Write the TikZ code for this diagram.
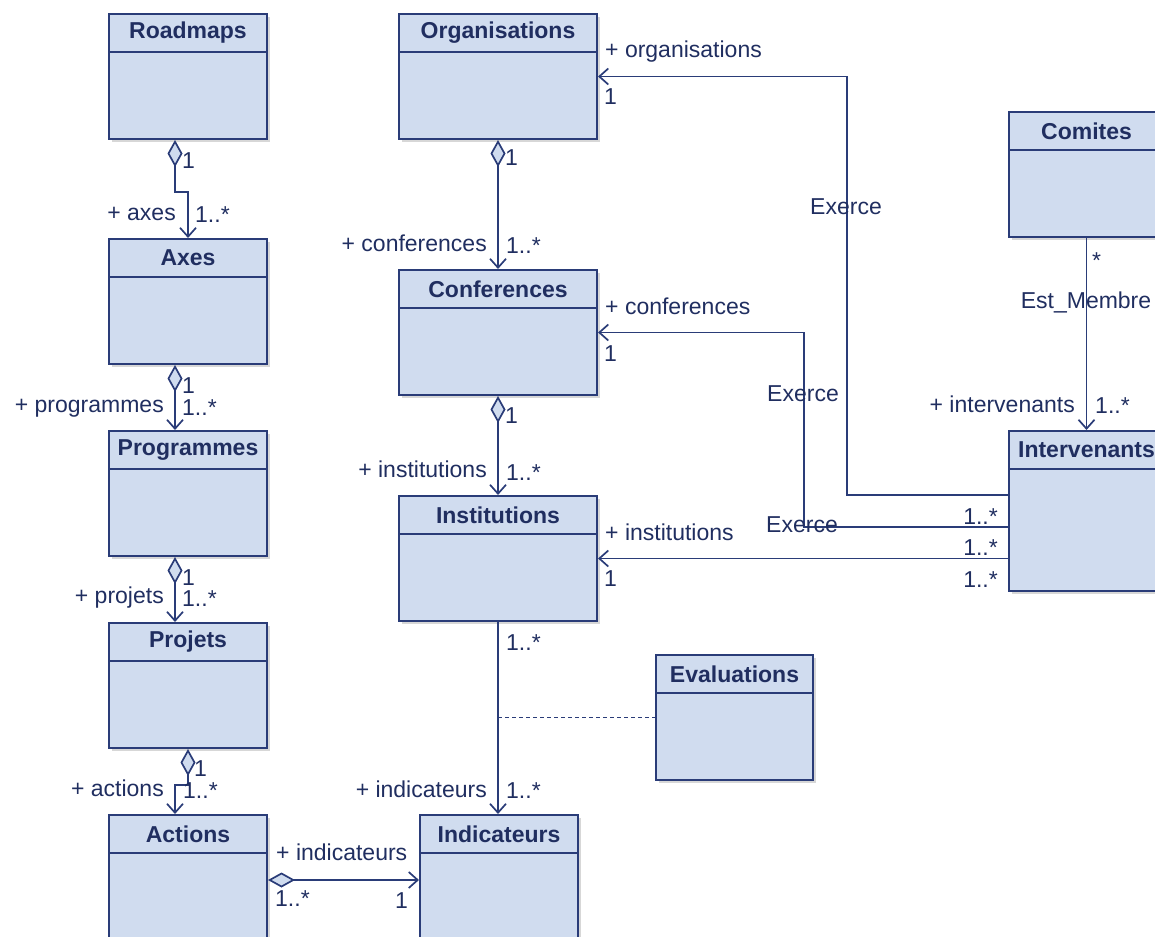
\documentclass[tikz,border=0pt]{standalone}
\usepackage{fontspec}
\setmainfont{Liberation Sans}
\usetikzlibrary{arrows.meta}
\usetikzlibrary{shadows}
\definecolor{umlfill}{RGB}{208,220,239}
\definecolor{umlline}{RGB}{42,60,120}
\definecolor{umltext}{RGB}{32,46,96}

\begin{document}
\begin{tikzpicture}[x=1pt,y=-1pt,font=\fontsize{23}{27}\selectfont,text=umltext,
    cls/.style={draw=umlline,line width=2pt,fill=umlfill,anchor=north west,inner sep=0pt,minimum height=125pt,
      drop shadow={shadow xshift=3pt,shadow yshift=-3pt,fill=black!35,opacity=.45}},
    head/.style={draw=umlline,line width=2pt,fill=umlfill,anchor=north,inner sep=0pt,minimum height=38pt,
      font=\fontsize{23}{27}\selectfont\bfseries},
    lnk/.style={draw=umlline,line width=1.7pt},
    nav/.style={lnk,-{Straight Barb[length=9pt,width=16pt]}},
    agg/.style={lnk,{Diamond[fill=umlfill,length=27pt,width=15pt]}-{Straight Barb[length=9pt,width=16pt]}},
    lbl/.style={inner sep=0pt}]
  \useasboundingbox (0,0) rectangle (1155,936);

  % classes
  \node[cls,minimum width=158pt] (roadmaps) at (108,13) {};
  \node[head,minimum width=158pt] (roadmaps-h) at (roadmaps.north) {Roadmaps};
  \node[cls,minimum width=158pt] (axes) at (108,238) {};
  \node[head,minimum width=158pt] (axes-h) at (axes.north) {Axes};
  \node[cls,minimum width=158pt] (programmes) at (108,430) {};
  \node[head,minimum width=158pt] (programmes-h) at (programmes.north) {Programmes};
  \node[cls,minimum width=158pt] (projets) at (108,622) {};
  \node[head,minimum width=158pt] (projets-h) at (projets.north) {Projets};
  \node[cls,minimum width=158pt] (actions) at (108,814) {};
  \node[head,minimum width=158pt] (actions-h) at (actions.north) {Actions};
  \node[cls,minimum width=198pt] (organisations) at (398,13) {};
  \node[head,minimum width=198pt] (organisations-h) at (organisations.north) {Organisations};
  \node[cls,minimum width=198pt] (conferences) at (398,269) {};
  \node[head,minimum width=198pt] (conferences-h) at (conferences.north) {Conferences};
  \node[cls,minimum width=198pt] (institutions) at (398,495) {};
  \node[head,minimum width=198pt] (institutions-h) at (institutions.north) {Institutions};
  \node[cls,minimum width=158pt] (indicateurs) at (419,814) {};
  \node[head,minimum width=158pt] (indicateurs-h) at (indicateurs.north) {Indicateurs};
  \node[cls,minimum width=157pt] (evaluations) at (655,654) {};
  \node[head,minimum width=157pt] (evaluations-h) at (evaluations.north) {Evaluations};
  \node[cls,minimum width=155pt] (comites) at (1008,111) {};
  \node[head,minimum width=155pt] (comites-h) at (comites.north) {Comites};
  \node[cls,minimum width=155pt,minimum height=160pt] (intervenants) at (1008,430) {};
  \node[head,minimum width=155pt] (intervenants-h) at (intervenants.north) {Intervenants};

  % aggregations
  \draw[agg] ([xshift=-13pt]roadmaps.south) -- ++(0,52) -| (axes.north);
  \draw[agg] ([xshift=-13pt]axes.south) -- ([xshift=-13pt]programmes.north);
  \draw[agg] ([xshift=-13pt]programmes.south) -- ([xshift=-13pt]projets.north);
  \draw[agg] (projets.south) -- ++(0,36) -| ([xshift=-13pt]actions.north);
  \draw[agg] (organisations.south) -- (conferences.north);
  \draw[agg] (conferences.south) -- (institutions.north);
  \draw[agg] ([yshift=-2.5pt]actions.east) -- ([yshift=-2.5pt]actions.east -| indicateurs.west);

  % associations
  \draw[nav] (institutions.south) -- (institutions.south |- indicateurs.north);
  \draw[lnk,line width=1.2pt,dash pattern=on 4pt off 3pt] (institutions.south |- evaluations.west) -- (evaluations.west);
  \draw[nav] (comites.south) -- (intervenants.north);
  \draw[nav] ([yshift=16pt]intervenants.west) -- ++(-161,0) |- (organisations.east);
  \draw[nav] ([yshift=-16pt]intervenants.west) -- ++(-204,0) |- (conferences.east);
  \draw[nav] (institutions.east -| intervenants.west) -- (institutions.east);

  % role names and multiplicities
  \node[lbl,anchor=base west] (r-1) at (182,168) {1};
  \node[lbl,anchor=base east] (r-2) at (176,220) {+ axes};
  \node[lbl,anchor=base west] (r-3) at (195,222) {1..*};
  \node[lbl,anchor=base west] (a-1) at (182,393) {1};
  \node[lbl,anchor=base east] (a-2) at (164,412) {+ programmes};
  \node[lbl,anchor=base west] (a-3) at (182,415) {1..*};
  \node[lbl,anchor=base west] (p-1) at (182,585) {1};
  \node[lbl,anchor=base east] (p-2) at (164,603) {+ projets};
  \node[lbl,anchor=base west] (p-3) at (182,606) {1..*};
  \node[lbl,anchor=base west] (j-1) at (194,776) {1};
  \node[lbl,anchor=base east] (j-2) at (164,796) {+ actions};
  \node[lbl,anchor=base west] (j-3) at (183,798) {1..*};
  \node[lbl,anchor=base west] (c-1) at (276,860) {+ indicateurs};
  \node[lbl,anchor=base west] (c-2) at (275,906) {1..*};
  \node[lbl,anchor=base east] (c-3) at (408,908) {1};
  \node[lbl,anchor=base west] (o-1) at (505,166) {1};
  \node[lbl,anchor=base east] (o-2) at (487,251) {+ conferences};
  \node[lbl,anchor=base west] (o-3) at (506,253) {1..*};
  \node[lbl,anchor=base west] (f-1) at (505,423) {1};
  \node[lbl,anchor=base east] (f-2) at (487,477) {+ institutions};
  \node[lbl,anchor=base west] (f-3) at (506,480) {1..*};
  \node[lbl,anchor=base west] (i-1) at (506,650) {1..*};
  \node[lbl,anchor=base east] (i-2) at (487,797) {+ indicateurs};
  \node[lbl,anchor=base west] (i-3) at (506,798) {1..*};
  \node[lbl,anchor=base west] (x-1) at (605,58) {+ organisations};
  \node[lbl,anchor=base west] (x-2) at (604,105) {1};
  \node[lbl,anchor=base west] (x-3) at (605,314) {+ conferences};
  \node[lbl,anchor=base west] (x-4) at (604,361) {1};
  \node[lbl,anchor=base west] (x-5) at (605,540) {+ institutions};
  \node[lbl,anchor=base west] (x-6) at (604,586) {1};
  \node[lbl] (ex-1) at (846,207) {Exerce};
  \node[lbl] (ex-2) at (803,394) {Exerce};
  \node[lbl] (ex-3) at (802,525) {Exerce};
  \node[lbl,anchor=base east] (m-1) at (998,524) {1..*};
  \node[lbl,anchor=base east] (m-2) at (998,555) {1..*};
  \node[lbl,anchor=base east] (m-3) at (998,587) {1..*};
  \node[lbl,anchor=base west] (k-1) at (1092,268) {*};
  \node[lbl,anchor=base] (k-2) at (1086,308) {Est\_Membre};
  \node[lbl,anchor=base east] (k-3) at (1075,412) {+ intervenants};
  \node[lbl,anchor=base west] (k-4) at (1095,413) {1..*};
\end{tikzpicture}
\end{document}
